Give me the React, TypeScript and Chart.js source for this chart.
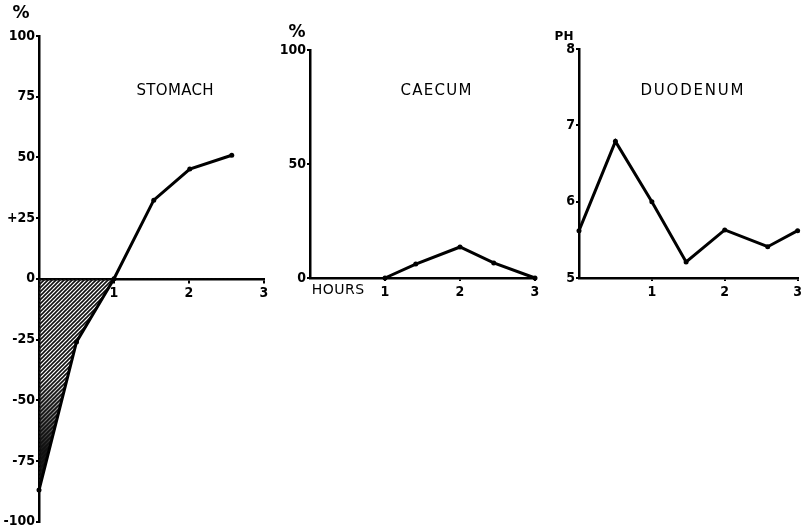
import React, { useEffect, useRef } from 'react';
import { Chart, registerables } from 'chart.js';
Chart.register(...registerables);

// ---------- data ----------
const stomachHours = [0, 0.5, 1, 1.53, 2.01, 2.57];
const stomachValues = [-87, -26, 0, 32.4, 45.2, 50.9];
const stomachYTickValues = [-100, -75, -50, -25, 0, 25, 50, 75, 100];
const stomachYTickLabels = ['-100', '-75', '-50', '-25', '0', '+25', '50', '75', '100'];

const caecumHours = [1, 1.41, 2, 2.45, 3];
const caecumValues = [0, 6.1, 13.6, 6.6, 0];
const caecumYTickValues = [0, 50, 100];
const caecumYTickLabels = ['0', '50', '100'];

const duodenumHours = [0, 0.5, 1, 1.47, 2, 2.59, 3];
const duodenumValues = [5.62, 6.79, 6.0, 5.21, 5.63, 5.41, 5.62];
const duodenumYTickValues = [5, 6, 7, 8];
const duodenumYTickLabels = ['5', '6', '7', '8'];

const hourTickValues = [1, 2, 3];
const hourTickLabels = ['1', '2', '3'];

const FONT = '"DejaVu Sans", sans-serif';
const TICK_FONT = '"DejaVu Sans Condensed", "DejaVu Sans", sans-serif';

type TextItem = { text: string; x: number; y: number; size: number; bold?: boolean; spacing?: number };

const textPlugin = {
  id: 'textLabels',
  afterDraw(chart: any) {
    const items: TextItem[] = chart.options.plugins.textLabels?.items || [];
    const ctx = chart.ctx;
    ctx.save();
    ctx.fillStyle = '#000';
    ctx.textAlign = 'center';
    ctx.textBaseline = 'middle';
    items.forEach((it) => {
      ctx.font = `${it.bold ? 'bold ' : ''}${it.size}px ${FONT}`;
      (ctx as any).letterSpacing = `${it.spacing || 0}px`;
      ctx.fillText(it.text, it.x + (it.spacing || 0) / 2, it.y);
    });
    ctx.restore();
  },
};

function makeHatch(): CanvasPattern | string {
  const c = document.createElement('canvas');
  c.width = 4;
  c.height = 4;
  const g = c.getContext('2d')!;
  g.strokeStyle = '#111';
  g.lineWidth = 1.6;
  g.beginPath();
  g.moveTo(-1, 5);
  g.lineTo(5, -1);
  g.moveTo(-1, 1);
  g.lineTo(1, -1);
  g.moveTo(3, 5);
  g.lineTo(5, 3);
  g.stroke();
  const p = g.createPattern(c, 'repeat');
  return p || '#555';
}

type Spec = {
  hours: number[];
  values: number[];
  yMin: number;
  yMax: number;
  yTicks: number[];
  yLabels: string[];
  yAxisWidth: number;
  xAxisHeight: number;
  xAtZero: boolean;
  padding: { top: number; right: number; bottom: number; left: number };
  texts: TextItem[];
  hatch?: boolean;
};

function buildConfig(spec: Spec): any {
  const points = spec.hours.map((h, i) => ({ x: h, y: spec.values[i] }));
  const dataset: any = {
    data: points,
    borderColor: '#000',
    borderWidth: 3,
    pointRadius: 2.5,
    pointBackgroundColor: '#000',
    pointBorderColor: '#000',
    pointBorderWidth: 0,
    tension: 0,
    clip: false,
    fill: false,
  };
  if (spec.hatch) {
    dataset.fill = { target: 'origin', above: 'rgba(0,0,0,0)', below: makeHatch() };
  }
  const datasets: any[] = [dataset];
  if (spec.hatch) {
    datasets.push({
      data: points,
      borderWidth: 0,
      pointRadius: 0,
      tension: 0,
      fill: {
        target: 'origin',
        above: 'rgba(0,0,0,0)',
        below: (ctx: any) => {
          const area = ctx.chart.chartArea;
          if (!area) return 'rgba(0,0,0,0)';
          const ys = ctx.chart.scales.y;
          const g = ctx.chart.ctx.createLinearGradient(0, ys.getPixelForValue(-40), 0, ys.getPixelForValue(-70));
          g.addColorStop(0, 'rgba(0,0,0,0)');
          g.addColorStop(1, 'rgba(0,0,0,0.9)');
          return g;
        },
      },
    });
  }
  return {
    type: 'line',
    data: { datasets },
    plugins: [textPlugin],
    options: {
      animation: false,
      responsive: false,
      events: [],
      layout: { padding: spec.padding },
      plugins: {
        legend: { display: false },
        tooltip: { enabled: false },
        textLabels: { items: spec.texts },
      },
      scales: {
        x: {
          type: 'linear',
          min: 0,
          max: 3,
          position: spec.xAtZero ? { y: 0 } : 'bottom',
          afterBuildTicks: (s: any) => {
            s.ticks = hourTickValues.map((v) => ({ value: v }));
          },
          afterFit: (s: any) => {
            if (!spec.xAtZero) s.height = spec.xAxisHeight;
          },
          border: { display: true, color: '#000', width: 2.5 },
          grid: { drawOnChartArea: false, drawTicks: true, tickLength: 3, color: '#000', lineWidth: 2 },
          ticks: {
            color: '#000',
            padding: 3,
            maxRotation: 0,
            font: { family: TICK_FONT, size: 14, weight: 'bold' },
            callback: (v: number) => {
              const i = hourTickValues.indexOf(v);
              return i >= 0 ? hourTickLabels[i] : '';
            },
          },
        },
        y: {
          type: 'linear',
          min: spec.yMin,
          max: spec.yMax,
          afterBuildTicks: (s: any) => {
            s.ticks = spec.yTicks.map((v) => ({ value: v }));
          },
          afterFit: (s: any) => {
            s.width = spec.yAxisWidth;
          },
          border: { display: true, color: '#000', width: 2.5 },
          grid: { drawOnChartArea: false, drawTicks: true, tickLength: 3, color: '#000', lineWidth: 2 },
          ticks: {
            color: '#000',
            padding: 1,
            font: { family: TICK_FONT, size: 14, weight: 'bold' },
            callback: (v: number) => {
              const i = spec.yTicks.indexOf(v);
              return i >= 0 ? spec.yLabels[i] : '';
            },
          },
        },
      },
    },
  };
}

const panels: { left: number; width: number; height: number; spec: Spec }[] = [
  {
    left: 0,
    width: 280,
    height: 531,
    spec: {
      hours: stomachHours,
      values: stomachValues,
      yMin: -100,
      yMax: 100,
      yTicks: stomachYTickValues,
      yLabels: stomachYTickLabels,
      yAxisWidth: 39,
      xAxisHeight: 0,
      xAtZero: true,
      padding: { top: 36, right: 16, bottom: 8, left: 0 },
      hatch: true,
      texts: [
        { text: '%', x: 21, y: 14, size: 17, bold: true },
        { text: 'STOMACH', x: 175, y: 91, size: 15, spacing: 0.3 },
      ],
    },
  },
  {
    left: 270,
    width: 275,
    height: 300,
    spec: {
      hours: caecumHours,
      values: caecumValues,
      yMin: 0,
      yMax: 100,
      yTicks: caecumYTickValues,
      yLabels: caecumYTickLabels,
      yAxisWidth: 40,
      xAxisHeight: 22,
      xAtZero: false,
      padding: { top: 50, right: 10, bottom: 0, left: 0 },
      texts: [
        { text: '%', x: 27, y: 33, size: 17, bold: true },
        { text: 'CAECUM', x: 166, y: 91, size: 15, spacing: 1.3 },
        { text: 'HOURS', x: 68, y: 290, size: 14, spacing: 0.5 },
      ],
    },
  },
  {
    left: 545,
    width: 260,
    height: 300,
    spec: {
      hours: duodenumHours,
      values: duodenumValues,
      yMin: 5,
      yMax: 8,
      yTicks: duodenumYTickValues,
      yLabels: duodenumYTickLabels,
      yAxisWidth: 34,
      xAxisHeight: 22,
      xAtZero: false,
      padding: { top: 49, right: 3, bottom: 0, left: 0 },
      texts: [
        { text: 'PH', x: 19, y: 37, size: 12, bold: true },
        { text: 'DUODENUM', x: 147, y: 91, size: 15, spacing: 1.8 },
      ],
    },
  },
];

function Panel({ left, width, height, spec }: { left: number; width: number; height: number; spec: Spec }) {
  const ref = useRef<HTMLCanvasElement | null>(null);
  useEffect(() => {
    if (!ref.current) return;
    const chart = new Chart(ref.current, buildConfig(spec));
    return () => chart.destroy();
  }, []);
  return (
    <canvas
      ref={ref}
      width={width}
      height={height}
      style={{ position: 'absolute', left, top: 0, width, height }}
    />
  );
}

export default function App() {
  return (
    <div style={{ position: 'absolute', left: 0, top: 0, width: 805, height: 531, background: '#fff' }}>
      {panels.map((p, i) => (
        <Panel key={i} {...p} />
      ))}
    </div>
  );
}
